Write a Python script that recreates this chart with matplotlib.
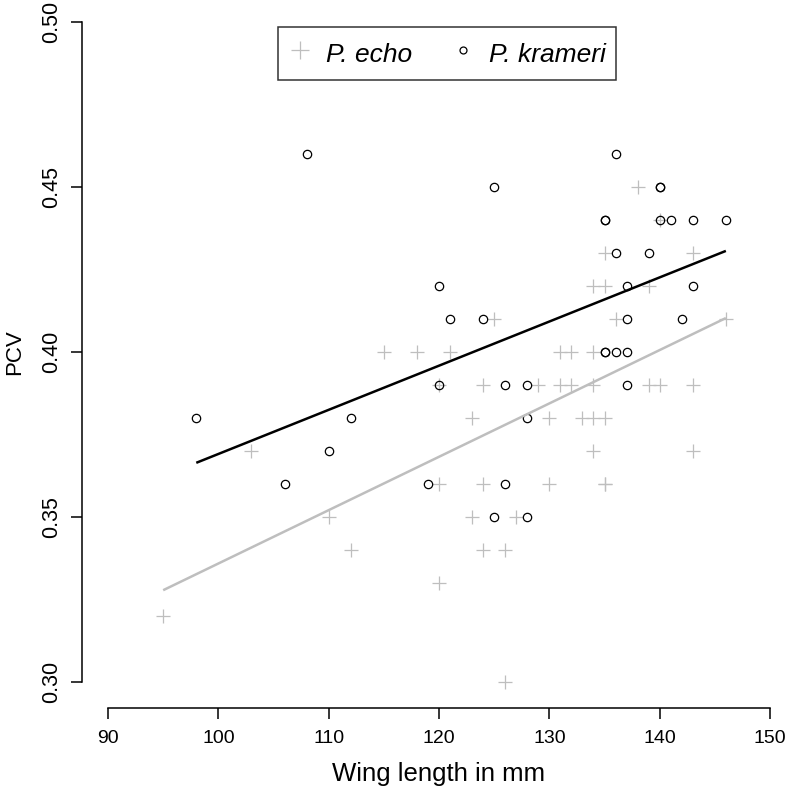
import numpy as np
import matplotlib
matplotlib.use("Agg")
import matplotlib.pyplot as plt
from matplotlib.lines import Line2D

# P. echo (grey crosses)
echo_wing = [95, 103, 110, 112, 115, 118, 120, 120, 120, 121, 123, 123,
             124, 124, 124, 125, 126, 126, 127, 129, 130, 130, 131, 131,
             132, 132, 133, 134, 134, 134, 134, 134, 135, 135, 135, 135,
             135, 136, 138, 139, 139, 140, 140, 143, 143, 143, 146]
echo_pcv = [0.32, 0.37, 0.35, 0.34, 0.40, 0.40, 0.39, 0.36, 0.33, 0.40, 0.38, 0.35,
            0.39, 0.36, 0.34, 0.41, 0.34, 0.30, 0.35, 0.39, 0.38, 0.36, 0.40, 0.39,
            0.40, 0.39, 0.38, 0.42, 0.40, 0.39, 0.38, 0.37, 0.43, 0.42, 0.38, 0.36,
            0.36, 0.41, 0.45, 0.42, 0.39, 0.44, 0.39, 0.43, 0.39, 0.37, 0.41]

# P. krameri (open circles)
kram_wing = [98, 106, 108, 110, 112, 119, 120, 120, 121, 124, 125, 125,
             126, 126, 128, 128, 128, 135, 135, 135, 135, 136, 136, 136,
             137, 137, 137, 137, 139, 140, 140, 140, 141, 142, 143, 143, 146]
kram_pcv = [0.38, 0.36, 0.46, 0.37, 0.38, 0.36, 0.42, 0.39, 0.41, 0.41, 0.45, 0.35,
            0.39, 0.36, 0.39, 0.38, 0.35, 0.44, 0.44, 0.40, 0.40, 0.46, 0.43, 0.40,
            0.42, 0.41, 0.40, 0.39, 0.43, 0.45, 0.45, 0.44, 0.44, 0.41, 0.44, 0.42, 0.44]

x_ticks = [90, 100, 110, 120, 130, 140, 150]
y_ticks = [0.30, 0.35, 0.40, 0.45, 0.50]

GREY = "#bebebe"
FONT = ["Liberation Sans", "DejaVu Sans"]

fig = plt.figure(figsize=(7.9, 7.87), dpi=100)
# R style: data range padded by 4%, plot region runs a bit past the image
ax = fig.add_axes([0.1032, 0.0999, 0.905, 0.9057])
ax.set_xlim(90 - 2.4, 150 + 2.4)
ax.set_ylim(0.30 - 0.008, 0.50 + 0.008)

ax.plot(echo_wing, echo_pcv, linestyle="none", marker="+", color=GREY,
        markersize=9.5, markeredgewidth=0.9)
ax.plot(kram_wing, kram_pcv, linestyle="none", marker="o", markerfacecolor="none",
        markeredgecolor="black", markersize=6.0, markeredgewidth=0.9)

# least squares lines over each species' range
for xs, ys, col in [(echo_wing, echo_pcv, GREY), (kram_wing, kram_pcv, "black")]:
    xs = np.array(xs, dtype=float)
    ys = np.array(ys, dtype=float)
    b, a = np.polyfit(xs, ys, 1)
    xl = np.array([xs.min(), xs.max()])
    ax.plot(xl, a + b * xl, color=col, linewidth=1.8, solid_capstyle="butt")

for s in ["top", "right"]:
    ax.spines[s].set_visible(False)
ax.spines["left"].set_bounds(0.30, 0.50)
ax.spines["bottom"].set_bounds(90, 150)
ax.spines["left"].set_linewidth(1.1)
ax.spines["bottom"].set_linewidth(1.1)

ax.set_xticks(x_ticks)
ax.set_xticklabels([str(v) for v in x_ticks], family=FONT, fontsize=14)
ax.set_yticks(y_ticks)
ax.set_yticklabels([f"{v:.2f}" for v in y_ticks], family=FONT, fontsize=15.5,
                   rotation=90, va="center")
ax.tick_params(axis="both", direction="out", length=7.8, width=1.1, color="black")
ax.tick_params(axis="x", pad=8)
ax.tick_params(axis="y", pad=6)

ax.set_xlabel("Wing length in mm", family=FONT, fontsize=18.5)
ax.xaxis.set_label_coords(0.5, -0.0915)
ax.xaxis.label.set_va("center")
ax.set_ylabel("PCV", family=FONT, fontsize=16)
ax.yaxis.set_label_coords(-0.093, 0.5)
ax.yaxis.label.set_va("center")

handles = [
    Line2D([], [], linestyle="none", marker="+", color=GREY, markersize=13,
           markeredgewidth=0.9),
    Line2D([], [], linestyle="none", marker="o", markerfacecolor="none",
           markeredgecolor="black", markersize=5, markeredgewidth=0.9),
]
leg = ax.legend(handles, ["P. echo", "P. krameri"], ncol=2, loc="center",
                bbox_to_anchor=(447 / 790, 1 - 53.5 / 787),
                bbox_transform=fig.transFigure,
                prop={"family": FONT, "style": "italic", "size": 19},
                frameon=True, fancybox=False, borderpad=0.385,
                handlelength=0.92, handleheight=1.5, handletextpad=0.54,
                columnspacing=1.46, borderaxespad=0)
leg.get_frame().set_edgecolor("black")
leg.get_frame().set_linewidth(1.1)

fig.savefig("out.png", dpi=100)
